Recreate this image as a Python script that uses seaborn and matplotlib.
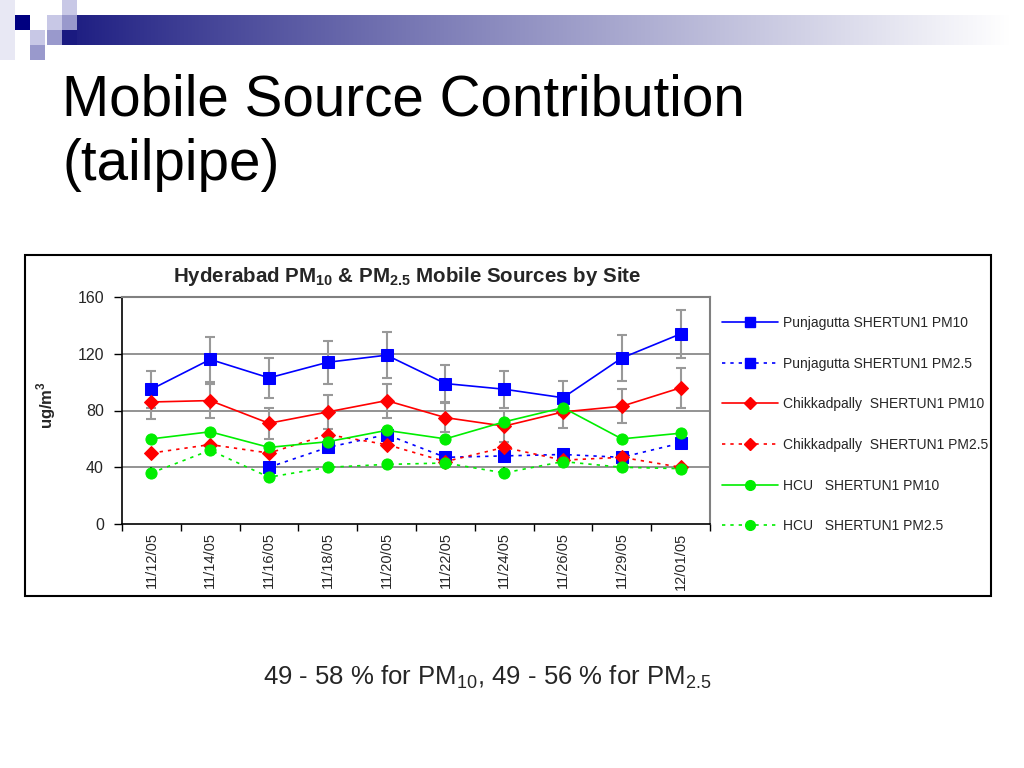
import numpy as np
import pandas as pd
import matplotlib
matplotlib.use("Agg")
import matplotlib.pyplot as plt
from matplotlib.patches import Rectangle
from matplotlib.lines import Line2D
import seaborn as sns

sns.set_theme(style="white")
plt.rcParams['font.family'] = ['Liberation Sans', 'DejaVu Sans']
plt.rcParams['mathtext.fontset'] = 'custom'
plt.rcParams['mathtext.rm'] = 'Liberation Sans'
plt.rcParams['mathtext.bf'] = 'Liberation Sans:bold'

# ---------------- data ----------------
dates = ["11/12/05", "11/14/05", "11/16/05", "11/18/05", "11/20/05",
         "11/22/05", "11/24/05", "11/26/05", "11/29/05", "12/01/05"]
punj_pm10 = [95, 116, 103, 114, 119, 99, 95, 89, 117, 134]
punj_pm25 = [np.nan, np.nan, 40, 54, 63, 47, 48, 49, 47, 57]
chik_pm10 = [86, 87, 71, 79, 87, 75, 69, 79, 83, 96]
chik_pm25 = [50, 56, 50, 63, 56, 44, 54, 45, 47, 40]
hcu_pm10 = [60, 65, 54, 58, 66, 60, 72, 82, 60, 64]
hcu_pm25 = [36, 52, 33, 40, 42, 43, 36, 44, 40, 39]
punj_err = [13, 16, 14, 15, 16, 13, 13, 12, 16, 17]
chik_err = [12, 12, 11, 12, 12, 10, 11, 11, 12, 14]
pm25_err = [4, 4, 4, 4, 4, 4, 4, 4, 4, 4]
labels = ["Punjagutta SHERTUN1 PM10", "Punjagutta SHERTUN1 PM2.5",
          "Chikkadpally  SHERTUN1 PM10", "Chikkadpally  SHERTUN1 PM2.5",
          "HCU   SHERTUN1 PM10", "HCU   SHERTUN1 PM2.5"]
yticks = [0, 40, 80, 120, 160]

W, H = 1024, 768
fig = plt.figure(figsize=(W / 100, H / 100), dpi=100)
fig.patch.set_facecolor("white")

def fx(x): return x / W
def fy(y): return 1 - y / H

# ---------------- slide decoration ----------------
gax = fig.add_axes([fx(62), fy(45), fx(1010 - 62), (45 - 15) / H])
t = np.linspace(0, 1, 512) ** 0.9
navy = np.array([26, 26, 128]) / 255
white = np.array([1.0, 1.0, 1.0])
grad = navy[None, :] * (1 - t[:, None]) + white[None, :] * t[:, None]
gax.imshow(grad[None, :, :], aspect="auto", extent=[0, 1, 0, 1])
gax.axis("off")

sq = 15
squares = [(62, 0, "#c8c8e6"), (15, 15, "#000080"), (47, 15, "#c8c8e6"),
           (62, 15, "#9999cc"), (30, 30, "#c8c8e6"), (47, 30, "#9999cc"),
           (62, 30, "#1a1a80"), (30, 45, "#9999cc")]
for (x, y, c) in squares:
    fig.patches.append(Rectangle((fx(x), fy(y + sq)), sq / W, sq / H,
                                 transform=fig.transFigure, facecolor=c,
                                 edgecolor="none", zorder=5))
for i in range(4):
    fig.patches.append(Rectangle((0, fy(15 * (i + 1))), sq / W, sq / H,
                                 transform=fig.transFigure, facecolor="#e8e8f4",
                                 edgecolor="none", zorder=4))

fig.text(fx(62), fy(100), "Mobile Source Contribution", fontsize=40.8,
         ha="left", va="center", color="black")
fig.text(fx(62), fy(165), "(tailpipe)", fontsize=40.8,
         ha="left", va="center", color="black")

# chart frame
fig.patches.append(Rectangle((fx(25), fy(596)), (991 - 25) / W, (596 - 255) / H,
                             transform=fig.transFigure, fill=False,
                             edgecolor="black", linewidth=1.5, zorder=1))

# ---------------- chart ----------------
ax = fig.add_axes([fx(122), fy(524), fx(710 - 122), (524 - 297) / H])
x = np.arange(len(dates))

series = [
    (punj_pm10, "#0000ff", "s", "-"),
    (punj_pm25, "#0000ff", "s", (0, (2, 3))),
    (chik_pm10, "#ff0000", "D", "-"),
    (chik_pm25, "#ff0000", "D", (0, (2, 3))),
    (hcu_pm10, "#00ee00", "o", "-"),
    (hcu_pm25, "#00ee00", "o", (0, (2, 3))),
]
msizes = {"s": 8, "D": 7, "o": 8}

ax.errorbar(x, punj_pm10, yerr=punj_err, fmt="none", ecolor="#999999",
            elinewidth=1.5, capsize=3.5, capthick=1.5, zorder=2)
ax.errorbar(x, chik_pm10, yerr=chik_err, fmt="none", ecolor="#999999",
            elinewidth=1.5, capsize=3.5, capthick=1.5, zorder=2)
for s in (punj_pm25, chik_pm25, hcu_pm25):
    ax.errorbar(x, s, yerr=pm25_err, fmt="none", ecolor="black",
                elinewidth=1.5, capsize=0, zorder=2)

handles = []
for (vals, col, mk, ls), lab in zip(series, labels):
    df = pd.DataFrame({"x": x, "y": vals}).dropna()
    sns.lineplot(data=df, x="x", y="y", ax=ax, color=col, marker=mk,
                 markersize=msizes[mk], markeredgecolor=col, linewidth=1.2,
                 linestyle=ls, zorder=3, legend=False)
    handles.append(Line2D([], [], color=col, marker=mk, markersize=msizes[mk] - 1,
                          markeredgecolor=col, linewidth=1.2, linestyle=ls, label=lab))

ax.set_xlim(-0.5, len(dates) - 0.5)
ax.set_ylim(0, 160)
ax.set_yticks(yticks)
ax.set_yticklabels([str(v) for v in yticks], fontsize=11.5)
for v in yticks[1:-1]:
    ax.axhline(v, color="#808080", linewidth=1.2, zorder=1)

ax.set_xticks(np.arange(-0.5, len(dates) + 0.5, 1.0))
ax.set_xticklabels([])
ax.set_xticks(x, minor=True)
ax.set_xticklabels(dates, minor=True, rotation=90, fontsize=10.5)
ax.tick_params(axis="x", which="major", direction="out", length=5, width=1,
               color="black", bottom=True)
ax.tick_params(axis="x", which="minor", length=0, pad=6)
ax.tick_params(axis="y", direction="out", length=6, width=1, color="black",
               left=True, pad=7)
ax.set_xlabel("")
ax.set_ylabel("")
for side in ("left", "bottom"):
    ax.spines[side].set_color("black")
    ax.spines[side].set_linewidth(1.2)
for side in ("top", "right"):
    ax.spines[side].set_color("#808080")
    ax.spines[side].set_linewidth(1.5)
ax.set_facecolor("white")

fig.text(fx(407), fy(276),
         r"Hyderabad PM$_\mathbf{10}$ & PM$_\mathbf{2.5}$ Mobile Sources by Site",
         fontsize=14.8, fontweight="bold", ha="center", va="center")
fig.text(fx(46), fy(405), r"ug/m$^\mathbf{3}$", fontsize=12, fontweight="bold",
         rotation=90, ha="center", va="center")

fig.legend(handles=handles, loc="upper left",
           bbox_to_anchor=(fx(722), fy(316)), bbox_transform=fig.transFigure,
           frameon=False, fontsize=10, handlelength=4.0, handletextpad=0.4,
           labelspacing=1.92, borderpad=0, borderaxespad=0, numpoints=1)

fig.text(fx(487), fy(677), r"49 - 58 % for PM$_{10}$, 49 - 56 % for PM$_{2.5}$",
         fontsize=18.5, ha="center", va="center")

fig.savefig("out.png", dpi=100)
